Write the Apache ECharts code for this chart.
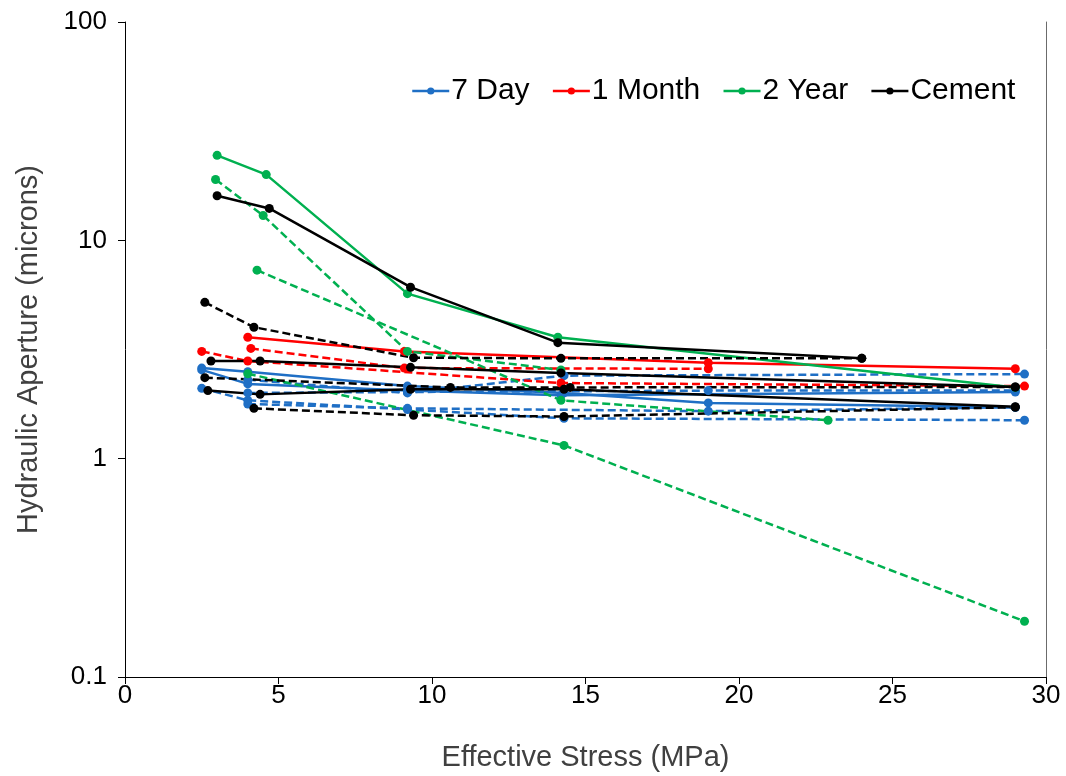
<!DOCTYPE html>
<html><head><meta charset="utf-8">
<script src="https://cdn.jsdelivr.net/npm/echarts@6/dist/echarts.min.js"></script>
<style>html,body{margin:0;padding:0;background:#fff}#c{width:1066px;height:776px}</style>
</head><body><div id="c"></div>
<script>
// Tick labels
const xTicks = [0, 5, 10, 15, 20, 25, 30];
const yTicks = [0.1, 1, 10, 100];
const groups = ['7 Day', '1 Month', '2 Year', 'Cement'];

// 7 Day (blue)
const day7_a = [[2.5,2.6],[4.0,2.5],[9.2,2.15],[14.3,2.0],[19,1.8],[29,1.72]];
const day7_b = [[2.5,2.55],[4.0,2.2],[9.2,2.05],[14.2,1.95],[29,2.02]];
const day7_c = [[2.5,2.1],[4.0,1.85],[9.2,1.68],[14.3,1.53],[29.3,1.5]];
const day7_d = [[4.0,2.3],[9.2,2.0],[14.3,2.4],[29.3,2.44]];
const day7_e = [[4.0,1.78],[9.2,1.7],[19,1.65],[29,1.72]];
const day7_f = [[4.0,2.0],[9.2,2.02],[19,2.05],[29,2.05]];
// 1 Month (red)
const month1_a = [[4.0,3.6],[9.1,3.1],[19,2.75],[29,2.58]];
const month1_b = [[4.1,3.2],[9.1,2.6],[19,2.58]];
const month1_c = [[2.5,3.1],[4.0,2.8],[14.2,2.22],[29.3,2.15]];
// 2 Year (green)
const year2_a = [[3.0,24.5],[4.6,20],[9.2,5.7],[14.1,3.6],[29,2.12]];
const year2_b = [[2.95,19],[4.5,13],[9.2,3.1],[14.2,2.55]];
const year2_c = [[4.3,7.3],[14.2,1.85],[22.9,1.5]];
const year2_d = [[4.0,2.45],[14.3,1.15],[29.3,0.18]];
// Cement (black)
const cement_a = [[3.0,16],[4.7,14],[9.3,6.1],[14.1,3.4],[24,2.88]];
const cement_b = [[2.6,5.2],[4.2,4.0],[9.4,2.9],[14.2,2.88],[24,2.88]];
const cement_c = [[2.8,2.8],[4.4,2.8],[9.3,2.62],[14.2,2.47],[29,2.13]];
const cement_d = [[2.6,2.35],[10.6,2.12],[14.5,2.12],[29,2.13]];
const cement_e = [[2.7,2.05],[4.4,1.97],[9.3,2.08],[14.3,2.08],[29,1.73]];
const cement_f = [[4.2,1.7],[9.4,1.58],[14.3,1.56],[29,1.72]];

const colors = {'7 Day':'#1F6FC5','1 Month':'#FF0000','2 Year':'#00B050','Cement':'#000000'};
const defs = [
  ['7 Day', day7_a, 'solid'], ['7 Day', day7_b, 'solid'], ['7 Day', day7_c, 'dashed'],
  ['7 Day', day7_d, 'dashed'], ['7 Day', day7_e, 'dashed'], ['7 Day', day7_f, 'dashed'],
  ['1 Month', month1_a, 'solid'], ['1 Month', month1_b, 'dashed'], ['1 Month', month1_c, 'dashed'],
  ['2 Year', year2_a, 'solid'], ['2 Year', year2_b, 'dashed'], ['2 Year', year2_c, 'dashed'], ['2 Year', year2_d, 'dashed'],
  ['Cement', cement_a, 'solid'], ['Cement', cement_b, 'dashed'], ['Cement', cement_c, 'solid'],
  ['Cement', cement_d, 'dashed'], ['Cement', cement_e, 'solid'], ['Cement', cement_f, 'dashed']
];

const series = defs.map(([name, data, type]) => ({
  name, type: 'line', data, symbol: 'circle', symbolSize: 9,
  itemStyle: {color: colors[name]},
  lineStyle: {color: colors[name], width: 2.5, type: type === 'dashed' ? [8, 4] : 'solid'},
  animation: false, z: 2
}));

const font = 'Liberation Sans, Arial, sans-serif';
const chart = echarts.init(document.getElementById('c'), null, {renderer: 'canvas'});
chart.setOption({
  backgroundColor: '#fff',
  animation: false,
  grid: {left: 125, right: 20, top: 22, bottom: 99, outerBoundsMode: 'none', containLabel: false},
  legend: {
    top: 71, left: 406, itemGap: 22, itemWidth: 37, itemHeight: 9,
    textStyle: {fontFamily: font, fontSize: 30, color: '#000', padding: [0, 0, 0, -3]},
    data: groups.map(g => ({name: g, itemStyle: {color: colors[g]}, lineStyle: {type: 'solid', width: 2.5, color: colors[g]}}))
  },
  xAxis: {
    type: 'value', min: xTicks[0], max: xTicks[xTicks.length - 1], interval: 5,
    name: 'Effective Stress (MPa)', nameLocation: 'middle', nameGap: 66,
    nameTextStyle: {fontFamily: font, fontSize: 29, color: '#404040'},
    axisLine: {lineStyle: {color: '#000', width: 1}},
    axisTick: {show: true, inside: false, length: 7, lineStyle: {color: '#000'}},
    axisLabel: {fontFamily: font, fontSize: 26, color: '#000', margin: 6},
    splitLine: {show: false}
  },
  yAxis: [{
    type: 'log', logBase: 10, min: yTicks[0], max: yTicks[yTicks.length - 1],
    name: 'Hydraulic Aperture (microns)', nameLocation: 'middle', nameGap: 82,
    nameTextStyle: {fontFamily: font, fontSize: 29, color: '#404040'},
    axisLine: {show: true, lineStyle: {color: '#000', width: 1}},
    axisTick: {show: true, inside: false, length: 7, lineStyle: {color: '#000'}},
    axisLabel: {fontFamily: font, fontSize: 26, color: '#000', margin: 18,
      formatter: v => String(+v.toPrecision(3))},
    splitLine: {show: false}
  }, {
    type: 'value', position: 'right', min: 0, max: 1,
    axisLine: {show: true, onZero: false, lineStyle: {color: '#6b6b6b', width: 1}},
    axisTick: {show: false}, axisLabel: {show: false}, splitLine: {show: false}
  }],
  series
});
</script></body></html>
